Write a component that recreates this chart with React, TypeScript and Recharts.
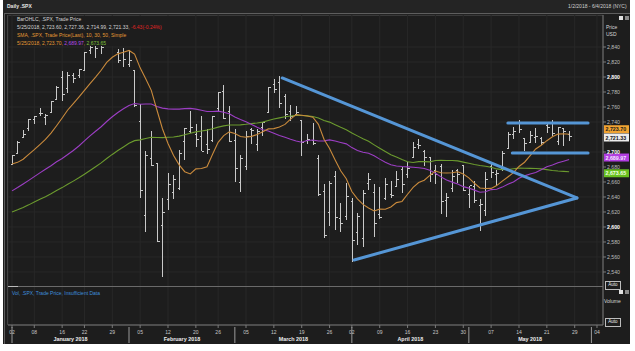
import React from 'react';
import { ComposedChart, Bar, Line, XAxis, YAxis, CartesianGrid, ReferenceLine } from 'recharts';

// ---------- categories (trading days, 1/2/2018 .. 5/25/2018) ----------
const janDays = [2, 3, 4, 5, 8, 9, 10, 11, 12, 16, 17, 18, 19, 22, 23, 24, 25, 26, 29, 30, 31];
const febDays = [1, 2, 5, 6, 7, 8, 9, 12, 13, 14, 15, 16, 20, 21, 22, 23, 26, 27, 28];
const marDays = [1, 2, 5, 6, 7, 8, 9, 12, 13, 14, 15, 16, 19, 20, 21, 22, 23, 26, 27, 28, 29];
const aprDays = [2, 3, 4, 5, 6, 9, 10, 11, 12, 13, 16, 17, 18, 19, 20, 23, 24, 25, 26, 27, 30];
const mayDays = [1, 2, 3, 4, 7, 8, 9, 10, 11, 14, 15, 16, 17, 18, 21, 22, 23, 24, 25];
const tradingDates = [
  ...janDays.map((d) => `1/${d}/2018`),
  ...febDays.map((d) => `2/${d}/2018`),
  ...marDays.map((d) => `3/${d}/2018`),
  ...aprDays.map((d) => `4/${d}/2018`),
  ...mayDays.map((d) => `5/${d}/2018`),
];

// ---------- series values ----------
const opens = [
  2683.73, 2697.85, 2719.31, 2731.33, 2742.67, 2751.15, 2745.55, 2752.97, 2770.18, 2798.96, 2784.99, 2802.40, 2802.60, 2809.16, 2835.05, 2845.42, 2846.24, 2847.48, 2867.23, 2832.74, 2832.41,
  2816.45, 2808.92, 2741.06, 2614.78, 2690.95, 2685.01, 2601.78, 2636.75, 2646.27, 2651.21, 2713.46, 2727.14, 2722.99, 2720.53, 2710.42, 2715.80, 2757.37, 2780.45, 2753.78,
  2715.22, 2658.89, 2681.06, 2730.18, 2710.18, 2732.75, 2752.91, 2790.54, 2792.31, 2774.06, 2754.27, 2750.57, 2741.38, 2715.05, 2714.99, 2691.36, 2646.71, 2619.35, 2667.57, 2611.30, 2614.41,
  2633.45, 2592.17, 2584.04, 2657.36, 2645.82, 2617.18, 2638.41, 2643.89, 2653.83, 2676.90, 2670.10, 2692.74, 2710.11, 2701.16, 2692.56, 2675.40, 2680.80, 2634.92, 2651.65, 2675.47, 2682.51,
  2642.96, 2654.24, 2628.08, 2621.45, 2680.34, 2670.26, 2678.12, 2705.02, 2722.70, 2738.47, 2718.59, 2712.62, 2719.71, 2717.35, 2735.39, 2738.34, 2713.98, 2730.94, 2723.60,
];
const highs = [
  2695.89, 2714.37, 2729.29, 2743.45, 2748.51, 2759.14, 2750.80, 2767.56, 2787.85, 2807.54, 2807.04, 2805.83, 2810.33, 2833.03, 2842.24, 2852.97, 2848.56, 2872.87, 2870.62, 2837.75, 2839.26,
  2835.96, 2808.92, 2763.39, 2701.04, 2727.67, 2685.27, 2638.67, 2672.61, 2668.84, 2702.10, 2731.51, 2754.42, 2737.60, 2747.75, 2731.26, 2747.76, 2780.64, 2789.15, 2761.52,
  2730.89, 2696.25, 2728.09, 2732.08, 2730.60, 2740.45, 2786.57, 2796.98, 2801.90, 2777.11, 2763.03, 2761.85, 2741.38, 2724.22, 2739.14, 2695.68, 2657.67, 2661.36, 2674.78, 2632.65, 2659.07,
  2638.30, 2619.14, 2649.86, 2672.08, 2656.88, 2653.55, 2665.45, 2661.43, 2674.72, 2680.26, 2686.49, 2713.34, 2717.49, 2702.84, 2693.94, 2682.86, 2683.55, 2645.30, 2676.48, 2677.35, 2682.87,
  2655.27, 2660.87, 2637.14, 2673.61, 2683.35, 2676.34, 2701.27, 2726.11, 2732.86, 2742.10, 2718.59, 2727.76, 2731.96, 2719.50, 2739.19, 2742.24, 2733.33, 2731.97, 2727.36,
];
const lows = [
  2682.36, 2697.77, 2719.07, 2727.92, 2737.60, 2747.86, 2736.06, 2752.78, 2769.64, 2768.64, 2778.38, 2792.56, 2798.08, 2808.12, 2830.59, 2824.81, 2830.94, 2846.18, 2851.48, 2818.27, 2813.04,
  2812.70, 2759.97, 2638.17, 2593.07, 2681.33, 2580.56, 2532.69, 2622.45, 2637.08, 2648.87, 2689.82, 2725.11, 2706.76, 2701.29, 2697.77, 2713.74, 2753.78, 2744.22, 2713.54,
  2659.65, 2647.32, 2675.75, 2711.26, 2701.74, 2721.92, 2751.54, 2779.26, 2758.68, 2744.38, 2741.47, 2749.97, 2694.59, 2710.05, 2709.79, 2641.59, 2585.89, 2601.81, 2596.12, 2593.06, 2609.72,
  2553.80, 2575.49, 2573.61, 2649.58, 2586.27, 2610.79, 2635.78, 2639.25, 2653.83, 2645.05, 2665.16, 2692.05, 2703.63, 2681.90, 2660.61, 2657.99, 2617.32, 2612.67, 2647.16, 2659.01, 2648.04,
  2625.41, 2631.70, 2594.62, 2615.32, 2664.70, 2655.20, 2674.14, 2704.54, 2717.45, 2725.47, 2701.91, 2712.17, 2711.36, 2709.18, 2725.70, 2721.88, 2709.54, 2707.38, 2714.99,
];
const closes = [
  2695.81, 2713.06, 2723.99, 2743.15, 2747.71, 2751.29, 2748.23, 2767.56, 2786.24, 2776.42, 2802.56, 2798.03, 2810.30, 2832.97, 2839.13, 2837.54, 2839.25, 2872.87, 2853.53, 2822.43, 2823.81,
  2821.98, 2762.13, 2648.94, 2695.14, 2681.66, 2581.00, 2619.55, 2656.00, 2662.94, 2698.63, 2731.20, 2732.22, 2716.26, 2701.33, 2703.96, 2747.30, 2779.60, 2744.28, 2713.83,
  2677.67, 2691.25, 2720.94, 2728.12, 2726.80, 2738.97, 2786.57, 2783.02, 2765.31, 2749.48, 2747.33, 2752.01, 2712.92, 2716.94, 2711.93, 2643.69, 2588.26, 2658.55, 2612.62, 2605.00, 2640.87,
  2581.88, 2614.45, 2644.69, 2662.84, 2604.47, 2613.16, 2656.87, 2642.19, 2663.99, 2656.30, 2677.84, 2706.39, 2708.64, 2693.13, 2670.14, 2670.29, 2634.56, 2639.40, 2666.94, 2669.91, 2648.05,
  2654.80, 2635.67, 2629.73, 2663.42, 2672.63, 2671.92, 2697.79, 2723.07, 2727.72, 2730.13, 2711.45, 2722.46, 2720.13, 2712.97, 2733.01, 2724.44, 2733.29, 2727.76, 2721.33,
];
const prevClose = 2727.76;
const sma10 = [
  2683.89, 2686.18, 2690.43, 2696.82, 2703.13, 2709.93, 2716.70, 2725.19, 2735.06, 2745.34,
  2756.02, 2764.52, 2773.15, 2782.13, 2791.27, 2799.90, 2809.00, 2819.53, 2826.26, 2830.86,
  2832.99, 2835.39, 2830.57, 2812.17, 2797.77, 2782.18, 2756.35, 2731.02, 2711.27, 2695.32,
  2682.80, 2673.72, 2670.73, 2677.46, 2678.08, 2680.31, 2696.94, 2712.95, 2721.78, 2726.87,
  2724.77, 2720.77, 2719.64, 2720.83, 2723.38, 2726.88, 2730.81, 2731.15, 2733.25, 2736.82,
  2743.79, 2749.87, 2749.07, 2747.95, 2746.46, 2736.93, 2717.10, 2704.65, 2689.38, 2674.93,
  2664.28, 2647.27, 2637.42, 2630.19, 2625.28, 2621.36, 2623.85, 2623.68, 2626.64, 2632.54,
  2634.08, 2643.68, 2652.87, 2659.27, 2662.30, 2668.87, 2674.58, 2672.35, 2672.07, 2672.37,
  2673.73, 2670.75, 2665.59, 2658.29, 2651.95, 2651.28, 2651.51, 2655.25, 2661.09, 2666.70,
  2672.48, 2680.69, 2686.36, 2695.04, 2704.08, 2709.04, 2715.08, 2720.33, 2723.88, 2724.35,
  2723.70,
];
const sma30 = [
  2648.14, 2652.61, 2657.34, 2662.14, 2667.16, 2672.12, 2677.01, 2681.69, 2687.03, 2691.32,
  2696.66, 2701.95, 2707.97, 2714.76, 2721.50, 2727.70, 2733.68, 2740.64, 2747.00, 2752.68,
  2757.61, 2762.00, 2764.69, 2763.68, 2764.03, 2763.97, 2760.65, 2758.55, 2757.50, 2757.14,
  2757.23, 2757.83, 2758.10, 2757.20, 2755.65, 2754.07, 2754.04, 2754.44, 2753.04, 2750.95,
  2746.79, 2743.23, 2740.25, 2736.75, 2733.01, 2729.72, 2727.96, 2724.96, 2722.02, 2719.59,
  2717.04, 2714.71, 2713.07, 2715.34, 2715.90, 2714.63, 2714.87, 2716.17, 2714.72, 2712.79,
  2710.86, 2705.88, 2701.95, 2699.56, 2698.28, 2694.96, 2690.49, 2686.40, 2683.00, 2681.34,
  2680.63, 2680.18, 2679.69, 2679.04, 2677.92, 2675.63, 2671.75, 2666.80, 2662.60, 2659.85,
  2657.27, 2653.80, 2651.86, 2649.15, 2646.41, 2647.07, 2649.88, 2650.33, 2653.17, 2657.11,
  2660.01, 2664.95, 2668.18, 2670.77, 2672.68, 2676.30, 2680.30, 2682.55, 2685.59, 2687.72,
  2689.97,
];
const sma50 = [
  2620.09, 2622.85, 2626.03, 2629.51, 2633.32, 2637.14, 2640.48, 2644.37, 2648.59, 2652.53,
  2656.98, 2661.18, 2665.56, 2670.41, 2675.31, 2680.37, 2685.51, 2691.27, 2696.76, 2701.92,
  2706.68, 2711.54, 2715.14, 2716.14, 2718.10, 2719.68, 2719.27, 2719.12, 2719.72, 2720.03,
  2721.16, 2723.00, 2725.05, 2726.79, 2728.08, 2729.13, 2730.88, 2733.19, 2734.82, 2736.06,
  2736.10, 2736.12, 2736.91, 2737.89, 2738.73, 2739.84, 2741.96, 2743.97, 2745.53, 2747.05,
  2748.08, 2748.86, 2748.64, 2748.12, 2747.40, 2745.25, 2742.05, 2739.87, 2736.40, 2732.97,
  2729.74, 2725.42, 2721.50, 2717.73, 2714.20, 2709.54, 2705.02, 2700.70, 2696.47, 2693.30,
  2689.95, 2687.07, 2685.96, 2687.15, 2687.11, 2686.88, 2688.67, 2688.97, 2688.64, 2688.72,
  2688.15, 2686.49, 2684.94, 2683.33, 2681.90, 2681.09, 2679.60, 2677.45, 2676.52, 2676.70,
  2677.70, 2678.48, 2678.29, 2678.18, 2678.05, 2677.53, 2676.46, 2675.29, 2674.65, 2674.22,
  2673.65,
];

// ---------- axis ticks ----------
const dayTicks = [0, 4, 9, 13, 18, 23, 28, 33, 37, 42, 47, 52, 57, 61, 66, 71, 76, 81, 86, 91, 96, 101, 105];
const dayTickLabels = ['02', '08', '16', '22', '29', '05', '12', '20', '26', '05', '12', '19', '26', '02', '09', '16', '23', '30', '07', '14', '21', '29', '04'];
const monthStarts = [0, 21, 40, 61, 82, 104];
const monthNames = ['January 2018', 'February 2018', 'March 2018', 'April 2018', 'May 2018'];
const priceTicks = [2540, 2560, 2580, 2600, 2620, 2640, 2660, 2680, 2700, 2740, 2760, 2780, 2800, 2820, 2840];

// ---------- drawn annotations (x = trading-day index, y = price) ----------
const trendLines = [
  { x1: 48.5, y1: 2798.7, x2: 101.4, y2: 2638.7 },
  { x1: 61.4, y1: 2556.0, x2: 101.4, y2: 2638.7 },
  { x1: 89.0, y1: 2738.7, x2: 103.4, y2: 2738.7 },
  { x1: 89.8, y1: 2698.7, x2: 103.4, y2: 2698.7 },
];

// ---------- build table ----------
const rows = closes.map((c, i) => ({
  i,
  date: tradingDates[i],
  open: opens[i],
  high: highs[i],
  low: lows[i],
  close: c,
  range: [lows[i], highs[i]],
  s10: sma10[i],
  s30: sma30[i],
  s50: sma50[i],
}));
const last = rows.length - 1;

const fmt2 = (v: number) => v.toLocaleString('en-US', { minimumFractionDigits: 2, maximumFractionDigits: 2 });
const fmt0 = (v: number) => v.toLocaleString('en-US');

const BG = '#1d1d1d';
const FONT = '"Liberation Sans", Arial, sans-serif';
const C_BAR = '#c9c9c9';
const C_10 = '#c98a3c';
const C_30 = '#9c3ec4';
const C_50 = '#6b9a2e';
const C_TREND = '#5596d6';
const C_AXIS = '#7a7a7a';

const XMIN = -0.72;
const XMAX = 106.08;
const YMIN = 2469.33;
const YMAX = 2882.67;

const OhlcShape = (props: any) => {
  const { x, y, width, height } = props;
  const p = props.payload || props;
  if (x == null || y == null) return null;
  const cx = Math.round(x + width / 2) + 0.5;
  const span = p.high - p.low || 1;
  const yOf = (v: number) => y + ((p.high - v) / span) * height;
  return (
    <g stroke={C_BAR} strokeWidth={1} shapeRendering="crispEdges">
      <line x1={cx} x2={cx} y1={y} y2={y + height} />
      <line x1={cx - 2} x2={cx} y1={yOf(p.open)} y2={yOf(p.open)} />
      <line x1={cx} x2={cx + 2} y1={yOf(p.close)} y2={yOf(p.close)} />
    </g>
  );
};

const PriceTick = (props: any) => {
  const { x, y, payload } = props;
  const v = payload.value;
  const major = v % 100 === 0;
  return (
    <g>
      <line x1={x} x2={x + 3} y1={y} y2={y} stroke={C_AXIS} />
      <text x={x + 4} y={y + 2} fontSize={5.2} fontFamily={FONT} fill={major ? '#ffffff' : '#bdbdbd'} fontWeight={major ? 'bold' : 'normal'}>
        {fmt0(v)}
      </text>
    </g>
  );
};

const DayTick = (props: any) => {
  const { x, y, payload } = props;
  const k = dayTicks.indexOf(payload.value);
  return (
    <g>
      <line x1={x} x2={x} y1={y} y2={y + 3} stroke={C_AXIS} />
      <text x={x} y={y + 9} textAnchor="middle" fontSize={5} fontFamily={FONT} fill="#c8c8c8">
        {dayTickLabels[k]}
      </text>
    </g>
  );
};

const monthCenters = monthNames.map((_, k) => (monthStarts[k] + monthStarts[k + 1]) / 2);

const MonthTick = (props: any) => {
  const { x, y, payload } = props;
  const v = payload.value;
  const s = monthStarts.indexOf(v);
  if (s >= 0) {
    return <line x1={x} x2={x} y1={y - 17} y2={y - 1} stroke="#9a9a9a" strokeWidth={1} />;
  }
  const k = monthCenters.indexOf(v);
  return (
    <text x={x} y={y - 3} textAnchor="middle" fontSize={5.4} fontWeight="bold" fontFamily={FONT} fill="#ececec">
      {monthNames[k]}
    </text>
  );
};

const tags = [
  { value: sma10[last], bg: '#f0a332', fg: '#1a1a1a', dy: -5 },
  { value: closes[last], bg: '#ececec', fg: '#111111', dy: 1.5 },
  { value: sma30[last], bg: '#b13ee0', fg: '#f4e8ff', dy: -2 },
  { value: sma50[last], bg: '#69c01f', fg: '#f2ffe8', dy: 1.5 },
];

const makeTag = (t: any) => (props: any) => {
  const vb = props.viewBox || {};
  const x0 = (vb.x || 0) + (vb.width || 0) + 1;
  const yc = (vb.y || 0) + t.dy;
  return (
    <g>
      <rect x={x0} y={yc - 4} width={25} height={8} fill={t.bg} />
      <text x={x0 + 1.5} y={yc + 2} fontSize={5.3} fontFamily={FONT} fill={t.fg} fontWeight="bold">
        {fmt2(t.value)}
      </text>
    </g>
  );
};

const abs = (left: number, top: number, extra: React.CSSProperties = {}): React.CSSProperties => ({
  position: 'absolute',
  left,
  top,
  fontFamily: FONT,
  whiteSpace: 'nowrap',
  lineHeight: 1,
  ...extra,
});

export default function App() {
  const chg = closes[last] - prevClose;
  const pct = (chg / prevClose) * 100;
  return (
    <div style={{ position: 'absolute', left: 0, top: 0, width: 635, height: 351, background: '#ffffff', overflow: 'hidden' }}>
      {/* dark panel */}
      <div style={{ position: 'absolute', left: 3, top: 0, width: 627, height: 344, background: BG }} />
      <div style={{ position: 'absolute', left: 3, top: 0, width: 627, height: 13, background: '#242424' }} />
      <div style={{ position: 'absolute', left: 4, top: 13, width: 626, height: 1, background: '#5e5e5e' }} />
      <div style={{ position: 'absolute', left: 4, top: 13, width: 1, height: 331, background: '#5e5e5e' }} />
      <div style={{ position: 'absolute', left: 7, top: 15, width: 596, height: 1, background: '#4a4a4a' }} />
      <div style={{ position: 'absolute', left: 7, top: 15, width: 1, height: 310, background: '#5e5e5e' }} />

      <div style={{ position: 'absolute', left: 0, top: 0 }}>
        <ComposedChart width={635} height={351} data={rows} margin={{ top: 15, left: 8, right: 5, bottom: 6 }}>
          <CartesianGrid stroke="#282828" strokeWidth={1} />
          <XAxis
            dataKey="i"
            type="number"
            domain={[XMIN, XMAX]}
            allowDataOverflow
            ticks={dayTicks}
            interval={0}
            height={19}
            tickSize={0}
            tickMargin={0}
            tickLine={false}
            axisLine={{ stroke: C_AXIS }}
            tick={<DayTick />}
          />
          <XAxis
            xAxisId="m"
            dataKey="i"
            type="number"
            domain={[XMIN, XMAX]}
            allowDataOverflow
            ticks={[...monthStarts, ...monthCenters]}
            interval={0}
            height={1}
            tickSize={0}
            tickMargin={0}
            tickLine={false}
            axisLine={false}
            tick={<MonthTick />}
          />
          <YAxis
            orientation="right"
            type="number"
            domain={[YMIN, YMAX]}
            allowDataOverflow
            ticks={priceTicks}
            interval={0}
            width={27}
            tickSize={0}
            tickMargin={0}
            tickLine={false}
            axisLine={{ stroke: C_AXIS }}
            tick={<PriceTick />}
          />
          <Bar dataKey="range" barSize={5} isAnimationActive={false} shape={(p: any) => <OhlcShape {...p} />} />
          <Line dataKey="s50" stroke={C_50} strokeWidth={1.1} dot={false} activeDot={false} isAnimationActive={false} />
          <Line dataKey="s30" stroke={C_30} strokeWidth={1.1} dot={false} activeDot={false} isAnimationActive={false} />
          <Line dataKey="s10" stroke={C_10} strokeWidth={1.1} dot={false} activeDot={false} isAnimationActive={false} />
          {trendLines.map((t, k) => (
            <ReferenceLine
              key={`t${k}`}
              segment={[{ x: t.x1, y: t.y1 }, { x: t.x2, y: t.y2 }]}
              stroke={C_TREND}
              strokeWidth={3}
              strokeLinecap="round"
              ifOverflow="visible"
            />
          ))}
          {tags.map((t, k) => (
            <ReferenceLine key={`g${k}`} y={t.value} stroke="none" ifOverflow="visible" label={makeTag(t)} />
          ))}
        </ComposedChart>
      </div>

      {/* volume panel chrome */}
      <div style={{ position: 'absolute', left: 8, top: 286, width: 595, height: 1, background: '#6a6a6a' }} />
      <div style={{ position: 'absolute', left: 8, top: 286, width: 10, height: 1, background: '#bbbbbb' }} />
      <div style={{ ...abs(12, 291), fontSize: 5, color: '#3f8fde' }}>Vol, .SPX, Trade Price, Insufficient Data</div>

      {/* header */}
      <div style={{ ...abs(7, 4), fontSize: 5, fontWeight: 'bold', color: '#e6e6e6' }}>Daily .SPX</div>
      <div style={{ ...abs(568, 4), fontSize: 5, color: '#cfcfcf' }}>1/2/2018 - 6/4/2018 (NYC)</div>

      {/* legend */}
      <div style={{ position: 'absolute', left: 14, top: 16, width: 164, height: 30, background: BG }} />
      <div style={{ ...abs(17, 17), fontSize: 5, color: '#d4d4d4' }}>BarOHLC, .SPX, Trade Price</div>
      <div style={{ ...abs(17, 25), fontSize: 5, color: '#d4d4d4' }}>
        {`${tradingDates[last]}, ${fmt2(opens[last])}, ${fmt2(highs[last])}, ${fmt2(lows[last])}, ${fmt2(closes[last])}, `}
        <span style={{ color: '#e02424' }}>{`${chg.toFixed(2)}(${pct.toFixed(2)}%)`}</span>
      </div>
      <div style={{ ...abs(17, 33), fontSize: 5, color: '#e39a35' }}>SMA, .SPX, Trade Price(Last), 10, 30, 50, Simple</div>
      <div style={{ ...abs(17, 41), fontSize: 5, color: '#e39a35' }}>
        {`${tradingDates[last]}, ${fmt2(sma10[last])}, `}
        <span style={{ color: '#b44ae6' }}>{fmt2(sma30[last])}</span>
        <span>, </span>
        <span style={{ color: '#7fc23a' }}>{fmt2(sma50[last])}</span>
      </div>

      {/* right side chrome */}
      <div style={{ position: 'absolute', left: 619, top: 16, width: 4, height: 4, background: '#e0e0e0' }} />
      <div style={{ position: 'absolute', left: 625, top: 16, width: 4, height: 4, background: '#8a8a8a' }} />
      <div style={{ ...abs(606, 25), fontSize: 5, color: '#d8d8d8' }}>Price</div>
      <div style={{ ...abs(606, 32), fontSize: 5, color: '#d8d8d8' }}>USD</div>
      <div style={{ ...abs(605, 281, { width: 14, height: 6, border: '0.5px solid #bdbdbd', fontSize: 4.5, color: '#eeeeee', textAlign: 'center', paddingTop: 0.5 }) }}>Auto</div>
      <div style={{ position: 'absolute', left: 619, top: 290, width: 4, height: 4, background: '#e0e0e0' }} />
      <div style={{ position: 'absolute', left: 625, top: 290, width: 4, height: 4, background: '#8a8a8a' }} />
      <div style={{ ...abs(604, 299), fontSize: 5, color: '#d8d8d8' }}>Volume</div>
      <div style={{ ...abs(605, 318, { width: 14, height: 6, border: '0.5px solid #bdbdbd', fontSize: 4.5, color: '#eeeeee', textAlign: 'center', paddingTop: 0.5 }) }}>Auto</div>
    </div>
  );
}
